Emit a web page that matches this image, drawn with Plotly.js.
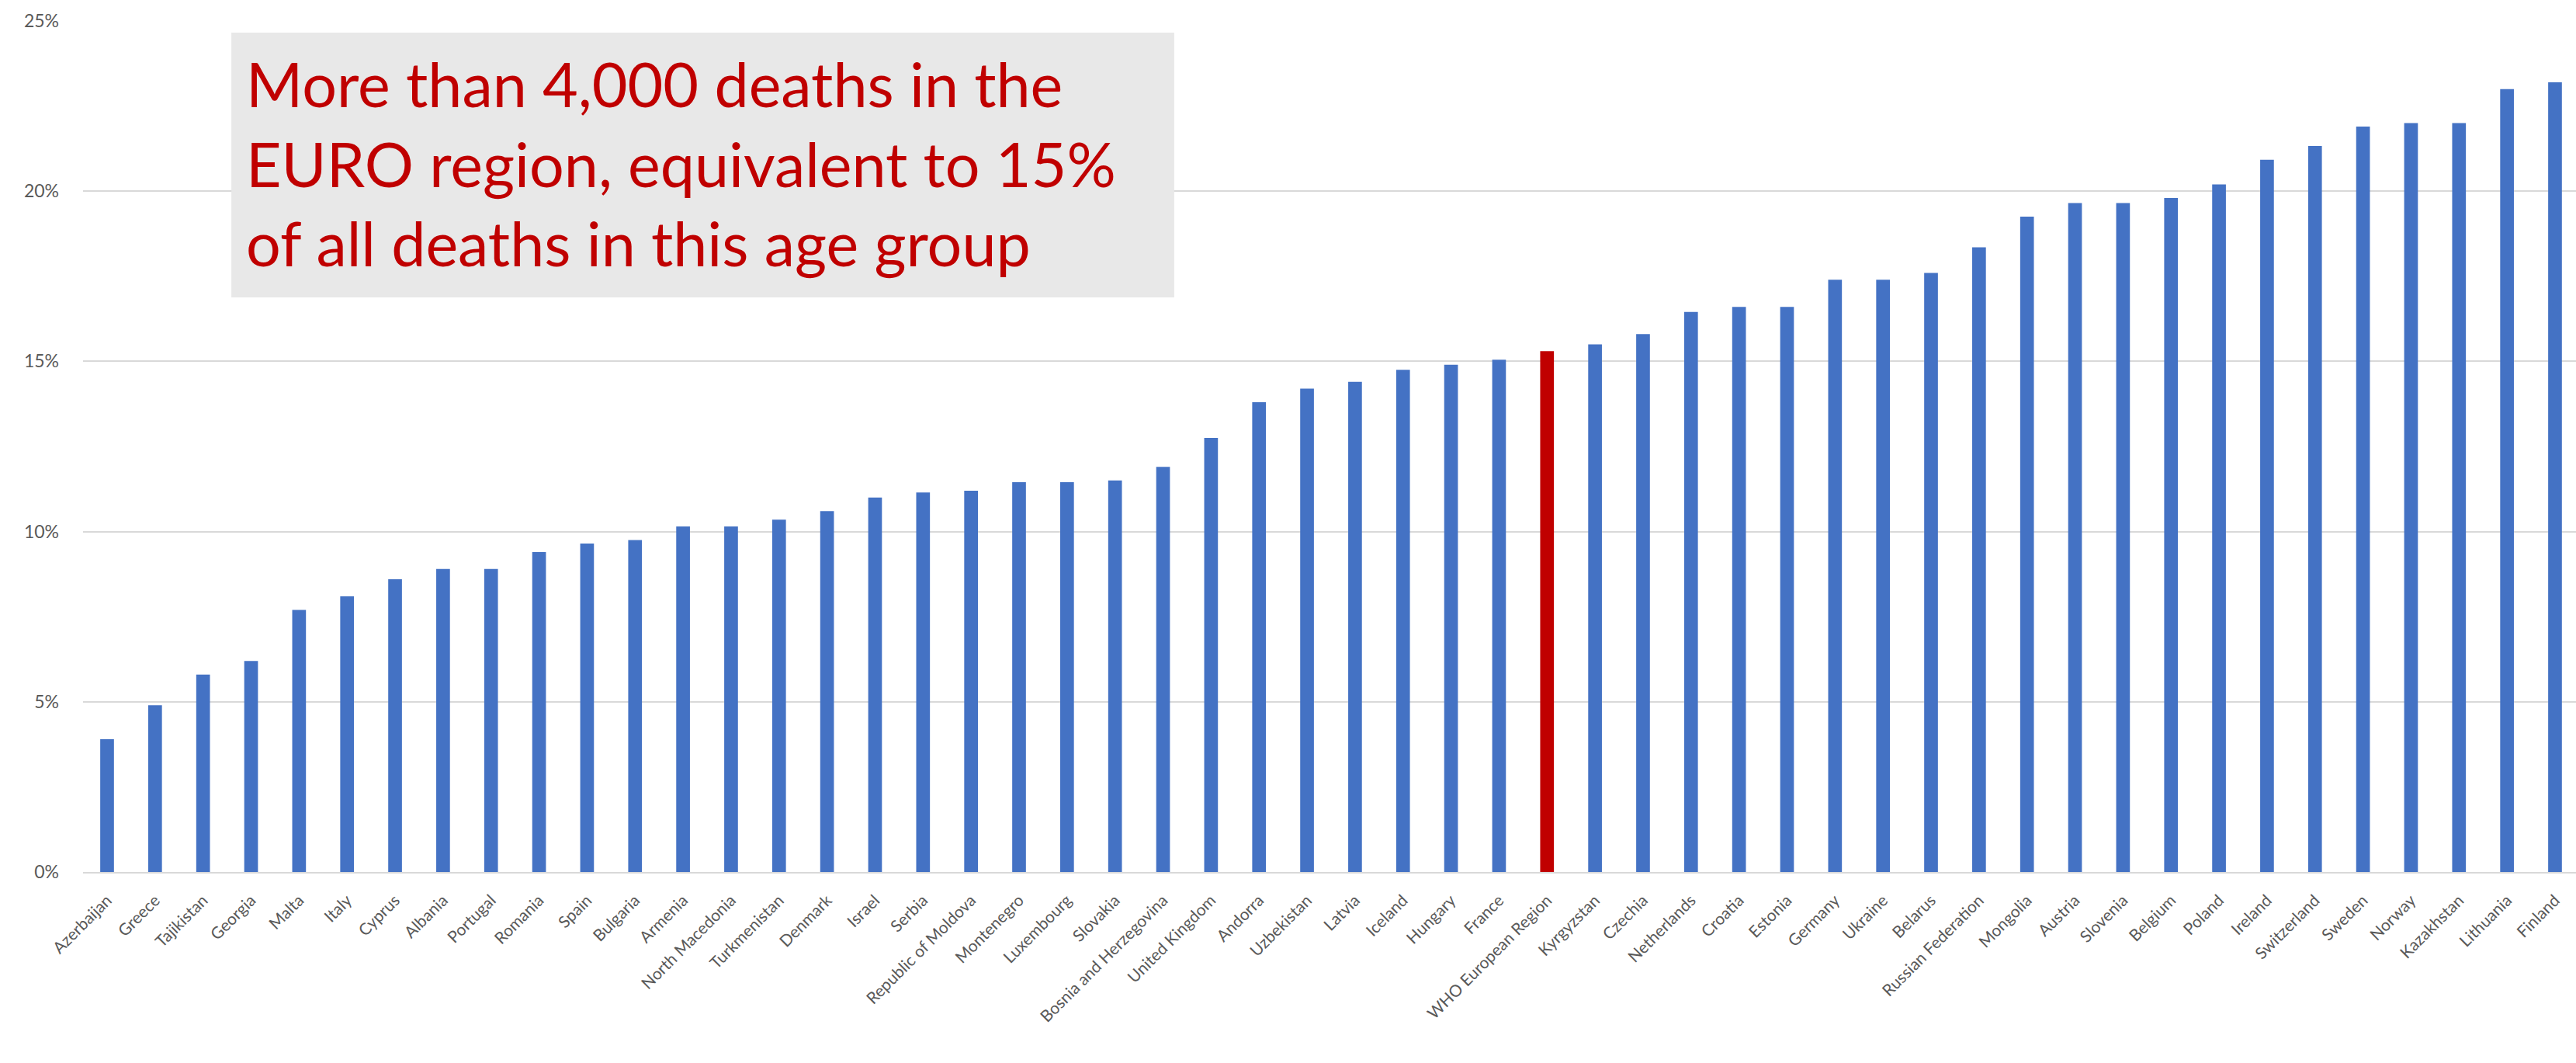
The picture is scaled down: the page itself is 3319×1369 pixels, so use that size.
<!DOCTYPE html>
<html>
<head>
<meta charset="utf-8">
<script src="https://cdn.plot.ly/plotly-3.0.1.min.js"></script>
<style>html,body{margin:0;padding:0;background:#fff;}#chart{width:3319px;height:1369px;}</style>
</head>
<body>
<div id="chart"></div>
<script>
var countries = ["Azerbaijan","Greece","Tajikistan","Georgia","Malta","Italy","Cyprus","Albania","Portugal","Romania","Spain","Bulgaria","Armenia","North Macedonia","Turkmenistan","Denmark","Israel","Serbia","Republic of Moldova","Montenegro","Luxembourg","Slovakia","Bosnia and Herzegovina","United Kingdom","Andorra","Uzbekistan","Latvia","Iceland","Hungary","France","WHO European Region","Kyrgyzstan","Czechia","Netherlands","Croatia","Estonia","Germany","Ukraine","Belarus","Russian Federation","Mongolia","Austria","Slovenia","Belgium","Poland","Ireland","Switzerland","Sweden","Norway","Kazakhstan","Lithuania","Finland"];
var shares = [0.039,0.049,0.058,0.062,0.077,0.081,0.086,0.089,0.089,0.094,0.0965,0.0975,0.1015,0.1015,0.1035,0.106,0.110,0.1115,0.112,0.1145,0.1145,0.115,0.119,0.1275,0.138,0.142,0.144,0.1475,0.149,0.1505,0.153,0.155,0.158,0.1645,0.166,0.166,0.174,0.174,0.176,0.1835,0.1925,0.1965,0.1965,0.198,0.202,0.2092,0.2133,0.219,0.220,0.220,0.230,0.232];
var highlight = "WHO European Region";
var yTicks = [0,0.05,0.10,0.15,0.20,0.25];
var yTickLabels = ["0%","5%","10%","15%","20%","25%"];
var noteText = "More than 4,000 deaths in the<br>EURO region, equivalent to 15%<br>of all deaths in this age group";

var colors = countries.map(function(c){ return c === highlight ? "#C00000" : "#4472C4"; });

var trace = {
  type: "bar",
  x: countries,
  y: shares,
  marker: {color: colors},
  hoverinfo: "x+y"
};

var layout = {
  width: 3319,
  height: 1369,
  margin: {l: 107, r: 0, t: 27, b: 246, pad: 0},
  paper_bgcolor: "#ffffff",
  plot_bgcolor: "#ffffff",
  bargap: 0.714,
  showlegend: false,
  font: {family: "Lato, 'Open Sans', sans-serif", color: "#595959"},
  xaxis: {
    type: "category",
    range: [-0.501, 51.437],
    tickangle: -45,
    tickfont: {size: 21, color: "#595959", family: "Lato, sans-serif"},
    ticklabelstandoff: 14,
    showgrid: false,
    showline: true,
    linecolor: "#d9d9d9",
    linewidth: 2,
    ticks: "",
    automargin: false
  },
  yaxis: {
    range: [0, 0.25],
    tickvals: yTicks,
    ticktext: yTickLabels,
    tickfont: {size: 23, color: "#595959", family: "Lato, sans-serif"},
    showgrid: true,
    gridcolor: "#d9d9d9",
    gridwidth: 2,
    zeroline: false,
    showline: false,
    ticks: "",
    ticklabelstandoff: 30,
    automargin: false
  },
  shapes: [{
    type: "rect",
    xref: "paper", yref: "paper",
    x0: 0.0595, x1: 0.4377, y0: 0.6752, y1: 0.9863,
    fillcolor: "#e8e8e8",
    line: {width: 0},
    layer: "above"
  }],
  annotations: [{
    xref: "paper", yref: "paper",
    x: 0.0648, y: 0.972,
    xanchor: "left", yanchor: "top",
    align: "left",
    showarrow: false,
    text: noteText,
    font: {family: "Lato, sans-serif", size: 79, color: "#C00000"}
  }]
};

Plotly.newPlot("chart", [trace], layout, {displayModeBar: false, staticPlot: true});
</script>
</body>
</html>
